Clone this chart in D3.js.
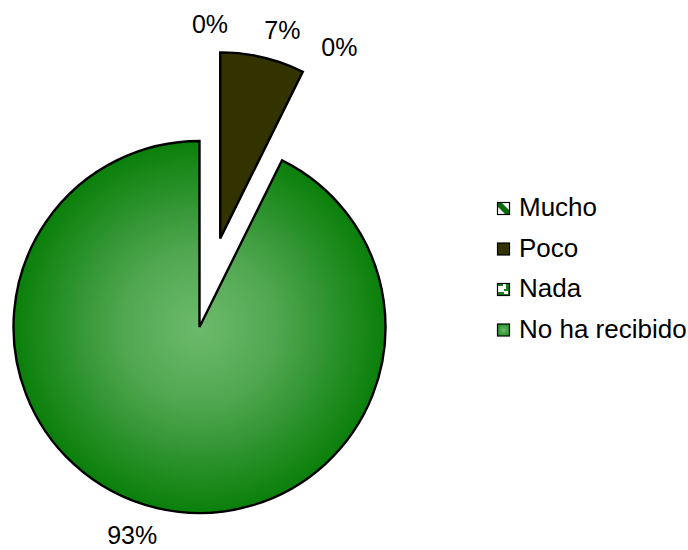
<!DOCTYPE html>
<html>
<head>
<meta charset="utf-8">
<script src="https://cdn.jsdelivr.net/npm/d3@7"></script>
<style>
  html, body { margin: 0; padding: 0; background: #fff; }
  svg { display: block; }
  text { font-family: "Liberation Sans", Arial, sans-serif; fill: #000; }
</style>
</head>
<body>
<svg id="chart" width="688" height="550"></svg>
<script>
// Responses
const categories = ["Mucho", "Poco", "Nada", "No ha recibido"];
const counts = [0, 3, 0, 38];

// Layout
const W = 688, H = 550;
const cx = 199.5, cy = 327, outerR = 186;
const explode = [91, 91, 91, 0];        // pull-out distance per slice
const labelGap = [28, 28, 28, 35];
const labelNudge = [[10.5, 2], [13.4, 0.5], [4.6, -6], [-17, -6.6]];
const fills = ["url(#patMucho)", "#333300", "url(#patNada)", "url(#gradMain)"];
const fontSize = 25;
const legendFontSize = 26;

const svg = d3.select("#chart");
const defs = svg.append("defs");

// Shading of the main slice: light in the middle, deep green at the rim
const grad = defs.append("radialGradient")
  .attr("id", "gradMain")
  .attr("gradientUnits", "userSpaceOnUse")
  .attr("cx", 0).attr("cy", 0).attr("r", outerR);
grad.append("stop").attr("offset", 0).attr("stop-color", "#6cba6c");
grad.append("stop").attr("offset", 0.4).attr("stop-color", "#52a852");
grad.append("stop").attr("offset", 1).attr("stop-color", "#0a7f0a");

const legGrad = defs.append("radialGradient").attr("id", "gradLegend");
legGrad.append("stop").attr("offset", 0).attr("stop-color", "#6cba6c");
legGrad.append("stop").attr("offset", 1).attr("stop-color", "#2e962e");

// Diagonal hatch
const pm = defs.append("pattern").attr("id", "patMucho")
  .attr("patternUnits", "userSpaceOnUse").attr("width", 12).attr("height", 12);
pm.append("rect").attr("width", 12).attr("height", 12).attr("fill", "#fff");
pm.append("path").attr("d", "M-2,2 L2,-2 L14,10 L10,14 Z").attr("fill", "#0a6a0a");
pm.append("path").attr("d", "M-2,10 L2,14 L-2,18 Z M10,-2 L14,2 L14,-2 Z").attr("fill", "#0a6a0a");

// Cross pattern
const pn = defs.append("pattern").attr("id", "patNada")
  .attr("patternUnits", "userSpaceOnUse").attr("width", 12).attr("height", 12);
pn.append("rect").attr("width", 12).attr("height", 12).attr("fill", "#1e7a1e");
pn.append("path").attr("d", "M1,3 h5 v-2 h3 v5 h-2 v3 h-6 z M7,8 h4 v3 h-4 z").attr("fill", "#fff");

const total = d3.sum(counts);
const pie = d3.pie().sort(null).value(d => d)(counts);
const arc = d3.arc().innerRadius(0).outerRadius(outerR);

const g = svg.append("g").attr("transform", `translate(${cx},${cy})`);

const slices = g.selectAll("g.slice").data(pie).join("g")
  .attr("class", "slice")
  .attr("transform", (d, i) => {
    const a = (d.startAngle + d.endAngle) / 2;
    return `translate(${Math.sin(a) * explode[i]},${-Math.cos(a) * explode[i]})`;
  });

slices.filter(d => d.value > 0).append("path")
  .attr("d", arc)
  .attr("fill", d => fills[d.index])
  .attr("stroke", "#000")
  .attr("stroke-width", 2.4)
  .attr("stroke-linejoin", "miter");

// Percent labels
g.selectAll("text.pct").data(pie).join("text")
  .attr("class", "pct")
  .attr("text-anchor", "middle")
  .attr("dy", "0.35em")
  .attr("font-size", fontSize)
  .attr("x", (d, i) => {
    const a = (d.startAngle + d.endAngle) / 2;
    return Math.sin(a) * (outerR + explode[i] + labelGap[i]) + labelNudge[i][0];
  })
  .attr("y", (d, i) => {
    const a = (d.startAngle + d.endAngle) / 2;
    return -Math.cos(a) * (outerR + explode[i] + labelGap[i]) + labelNudge[i][1];
  })
  .text(d => Math.round(d.value / total * 100) + "%");

// Legend
const legend = svg.append("g").attr("transform", "translate(497,202)");
const item = legend.selectAll("g").data(categories).join("g")
  .attr("transform", (d, i) => `translate(0,${i * 40.5})`);
item.append("rect")
  .attr("x", 0.5).attr("y", 0.5).attr("width", 12).attr("height", 12)
  .attr("fill", (d, i) => i === 3 ? "url(#gradLegend)" : fills[i])
  .attr("stroke", "#000").attr("stroke-width", 1.2);
item.append("text")
  .attr("x", 22).attr("y", 14)
  .attr("font-size", legendFontSize)
  .text(d => d);
</script>
</body>
</html>
